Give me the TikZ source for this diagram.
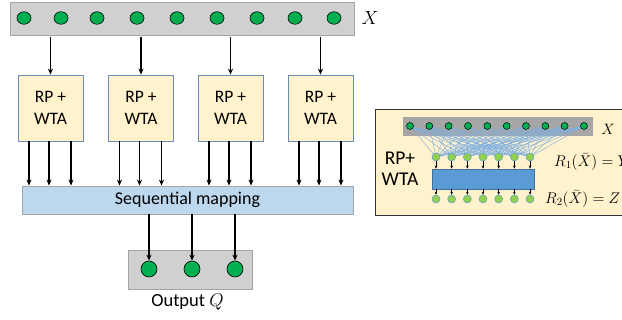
\RequirePackage{fix-cm}
\documentclass[tikz,border=0pt]{standalone}
\usepackage[no-math]{fontspec}
\setmainfont{Carlito}
\usetikzlibrary{arrows.meta,shapes.geometric}
\definecolor{barg}{HTML}{D0D0D0}
\definecolor{barb}{HTML}{A5A5A5}
\definecolor{dgreen}{HTML}{00B050}
\definecolor{boxy}{HTML}{FFF2CC}
\definecolor{boxb}{HTML}{6A8CB4}
\definecolor{seqb}{HTML}{BDD7EE}
\definecolor{lgreen}{HTML}{92D050}
\definecolor{mblue}{HTML}{5B9BD5}
\definecolor{dblue}{HTML}{41719C}
\definecolor{lblue}{HTML}{7FAFE0}
\definecolor{insg}{HTML}{A6A6A6}
\pgfdeclarelayer{bg}
\pgfdeclarelayer{mid}
\pgfsetlayers{bg,mid,main}
\begin{document}
\begin{tikzpicture}[x=1pt,y=-1pt,
  bar/.style={rectangle,inner sep=0pt,fill=barg,draw=barb,line width=0.8pt},
  inc/.style={ellipse,inner sep=0pt,minimum width=14pt,minimum height=12.5pt,fill=dgreen,draw=black,line width=0.6pt},
  outc/.style={circle,inner sep=0pt,minimum size=16pt,fill=dgreen,draw=black,line width=0.6pt},
  wta/.style={rectangle,inner sep=0pt,minimum width=65pt,minimum height=66pt,fill=boxy,draw=boxb,line width=0.8pt,align=center,font=\fontsize{17.5}{22}\selectfont},
  seqbox/.style={rectangle,inner sep=0pt,fill=seqb,draw=barb,line width=0.8pt,font=\fontsize{18}{20}\selectfont},
  arr/.style={line width=1.6pt,-{Stealth[length=6pt,width=5pt]}},
  sarr/.style={line width=0.5pt,-{Stealth[length=3pt,width=2.6pt]}},
  tc/.style={circle,inner sep=0pt,minimum size=7pt,fill=dgreen,draw=black,line width=0.5pt},
  mc/.style={circle,inner sep=0pt,minimum size=8pt,fill=lgreen,draw=mblue,line width=0.5pt},
]
\useasboundingbox (0,0) rectangle (622,320);

% ---- left part ----
\node[bar,minimum width=344pt,minimum height=33pt] (bar) at (182,18.5) {};
\foreach \x [count=\i] in {24,61,97,137,177,217,257,295,334}
  \node[inc] (x\i) at (\x,18) {};
\node (xl) at (370,18) {\fontsize{19}{20}\selectfont $X$};

\foreach \x [count=\i] in {50.5,141,230.5,320.5} {
  \node[wta] (b\i) at (\x,108) {RP +\\WTA};
  \draw[arr] ([yshift=-2pt]bar.south -| b\i.north) -- (b\i.north);
}

\node[seqbox,minimum width=331pt,minimum height=28pt] (seq) at (187.5,200) {Sequential mapping};

\foreach \i in {1,...,4}
  \foreach \d in {-21.5,-1.5,20.5}
    \draw[arr] ([xshift=\d pt]b\i.south) -- ([xshift=\d pt]b\i.south |- seq.north);

\node[bar,minimum width=124pt,minimum height=39pt] (obar) at (190,269.5) {};
\foreach \x [count=\i] in {149,192,235} {
  \node[outc] (o\i) at (\x,269) {};
  \draw[arr] (seq.south -| o\i.north) -- (o\i.north);
}
\node (ol) at (187.5,302) {\fontsize{18.5}{20}\selectfont Output $Q$};

% ---- inset ----
\begin{pgfonlayer}{bg}
\node[rectangle,inner sep=0pt,minimum width=275pt,minimum height=106pt,fill=boxy,draw=black!80,line width=0.8pt] (frame) at (512.5,162) {};
\node[rectangle,inner sep=0pt,minimum width=190pt,minimum height=19pt,fill=insg] (ibar) at (498,126.5) {};
\end{pgfonlayer}

\foreach \i in {1,...,10}
  \node[tc] (t\i) at ({410+(\i-1)*19.33},126) {};
\foreach \j in {1,...,7} {
  \node[mc] (m\j) at ({436+(\j-1)*15.67},157) {};
  \node[mc] (z\j) at ({436+(\j-1)*15.67},199) {};
}
\begin{pgfonlayer}{mid}
\foreach \i in {1,...,10}
  \foreach \j in {1,...,7}
    \draw[lblue,line width=0.45pt] (t\i.center) -- (m\j.center);
\end{pgfonlayer}

\node[rectangle,inner sep=0pt,minimum width=102pt,minimum height=20pt,fill=mblue,draw=dblue,line width=0.6pt] (rect) at (483,179) {};
\foreach \j in {1,...,7} {
  \draw[sarr] (m\j.south) -- (m\j.south |- rect.north);
  \draw[sarr] (rect.south -| z\j.north) -- (z\j.north);
}

\node[align=center,font=\fontsize{19.5}{21}\selectfont] (rpl) at (400,168.5) {RP+\\WTA};
\node (ixl) at (608,129) {\fontsize{15}{16}\selectfont $X$};
\node[anchor=west,inner sep=0pt] (r1) at (554,162) {\fontsize{15.5}{16}\selectfont $R_1(\bar{X}) = Y$};
\node[anchor=west,inner sep=0pt] (r2) at (545,199) {\fontsize{15.5}{16}\selectfont $R_2(\bar{X}) = Z$};
\end{tikzpicture}
\end{document}
